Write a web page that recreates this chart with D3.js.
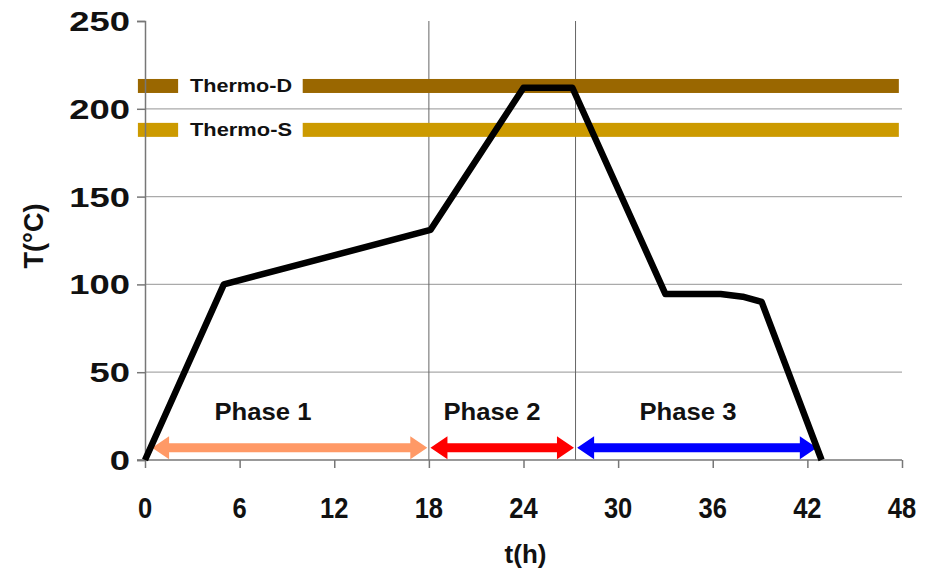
<!DOCTYPE html>
<html>
<head>
<meta charset="utf-8">
<script src="https://cdn.jsdelivr.net/npm/d3@7"></script>
<style>
  body { margin: 0; background: #fff; }
  text { font-family: "Liberation Sans", Arial, sans-serif; font-weight: bold; }
</style>
</head>
<body>
<svg id="chart"></svg>
<script>
const width = 936;
const height = 575;

// temperature profile
const hours = [0, 5, 18.1, 24, 27.1, 33, 36.5, 37.9, 39.1, 42.9];
const temps = [0, 100, 131, 212, 212, 94.5, 94.5, 93, 90, 0];

// thermometer bands
const bandNames = ["Thermo-D", "Thermo-S"];
const bandValues = [213, 188];
const bandColors = ["#9a6700", "#cc9a00"];

// phases
const phaseNames = ["Phase 1", "Phase 2", "Phase 3"];
const phaseStart = [0.45, 18.1, 27.4];
const phaseEnd = [17.9, 27.2, 42.6];
const phaseColors = ["#ff9966", "#ff0000", "#0000ff"];
const phaseBounds = [18, 27.3];

const xTicks = [0, 6, 12, 18, 24, 30, 36, 42, 48];
const yTicks = [0, 50, 100, 150, 200, 250];

const x = d3.scaleLinear().domain([0, 48]).range([145, 902]);
const y = d3.scaleLinear().domain([0, 250]).range([460, 21]);

const svg = d3.select("#chart").attr("width", width).attr("height", height);

// horizontal gridlines
svg.append("g")
  .selectAll("line")
  .data(yTicks.filter((d) => d > 0 && d < 250))
  .enter()
  .append("line")
  .attr("x1", x(0))
  .attr("x2", x(48))
  .attr("y1", (d) => y(d))
  .attr("y2", (d) => y(d))
  .attr("stroke", "#aaa")
  .attr("stroke-width", 1.2);

// phase boundary lines
svg.append("g")
  .selectAll("line")
  .data(phaseBounds)
  .enter()
  .append("line")
  .attr("x1", (d) => x(d))
  .attr("x2", (d) => x(d))
  .attr("y1", y(250))
  .attr("y2", y(0))
  .attr("stroke", "#666")
  .attr("stroke-width", 1);

// bands with a gap for the labels
const bandSegs = [[-0.45, 2.1], [10.0, 47.8]];
bandValues.forEach((v, i) => {
  bandSegs.forEach((s) => {
    svg.append("rect")
      .attr("x", x(s[0]))
      .attr("width", x(s[1]) - x(s[0]))
      .attr("y", y(v) - 7)
      .attr("height", 14)
      .attr("fill", bandColors[i]);
  });
  svg.append("text")
    .attr("x", 190)
    .attr("y", y(v) + 6.5)
    .attr("font-size", 19)
    .attr("textLength", 102)
    .attr("lengthAdjust", "spacingAndGlyphs")
    .attr("fill", "#111")
    .text(bandNames[i]);
});

// axes
const yAxis = svg.append("g")
  .attr("transform", `translate(${x(0)},0)`)
  .call(d3.axisLeft(y).tickValues(yTicks).tickSize(8).tickFormat(""));
const xAxis = svg.append("g")
  .attr("transform", `translate(0,${y(0)})`)
  .call(d3.axisBottom(x).tickValues(xTicks).tickSize(8).tickFormat(""));
[yAxis, xAxis].forEach((a) => {
  a.select(".domain").attr("stroke", "#777").attr("stroke-width", 1.5);
  a.selectAll(".tick line").attr("stroke", "#777").attr("stroke-width", 1.5);
});
xAxis.select(".domain").attr("d", `M${x(0) - 8},0H${x(48)}`);

// tick labels
svg.append("g")
  .selectAll("text")
  .data(yTicks)
  .enter()
  .append("text")
  .attr("x", 130)
  .attr("y", (d) => y(d) + 10)
  .attr("text-anchor", "end")
  .attr("font-size", 28)
  .attr("transform", "translate(130,0) scale(1.3,1) translate(-130,0)")
  .attr("fill", "#111")
  .text((d) => d);

svg.append("g")
  .selectAll("text")
  .data(xTicks)
  .enter()
  .append("text")
  .attr("x", (d) => x(d))
  .attr("y", 518)
  .attr("text-anchor", "middle")
  .attr("font-size", 29)
  .attr("transform", (d) => `translate(${x(d)},0) scale(0.88,1) translate(${-x(d)},0)`)
  .attr("fill", "#111")
  .text((d) => d);

// axis titles
svg.append("text")
  .attr("x", x(24) + 2)
  .attr("y", 563)
  .attr("text-anchor", "middle")
  .attr("font-size", 26)
  .attr("fill", "#111")
  .text("t(h)");

svg.append("text")
  .attr("transform", "translate(43,236) rotate(-90)")
  .attr("text-anchor", "middle")
  .attr("font-size", 27)
  .attr("fill", "#111")
  .text("T(°C)");

// phase arrows
const arrowY = y(7);
const shaft = 4.5, head = 11.5, headLen = 17;
function arrowPath(x0, x1) {
  return `M${x0},${arrowY}` +
    `L${x0 + headLen},${arrowY - head}L${x0 + headLen},${arrowY - shaft}` +
    `L${x1 - headLen},${arrowY - shaft}L${x1 - headLen},${arrowY - head}` +
    `L${x1},${arrowY}` +
    `L${x1 - headLen},${arrowY + head}L${x1 - headLen},${arrowY + shaft}` +
    `L${x0 + headLen},${arrowY + shaft}L${x0 + headLen},${arrowY + head}Z`;
}
svg.append("g")
  .selectAll("path")
  .data(phaseNames)
  .enter()
  .append("path")
  .attr("d", (d, i) => arrowPath(x(phaseStart[i]), x(phaseEnd[i])))
  .attr("fill", (d, i) => phaseColors[i]);

svg.append("g")
  .selectAll("text")
  .data(phaseNames)
  .enter()
  .append("text")
  .attr("x", (d, i) => [263, 492, 688][i])
  .attr("y", 420)
  .attr("text-anchor", "middle")
  .attr("font-size", 24)
  .attr("textLength", 97)
  .attr("lengthAdjust", "spacingAndGlyphs")
  .attr("fill", "#111")
  .text((d) => d);

// temperature curve
const line = d3.line()
  .x((d, i) => x(hours[i]))
  .y((d) => y(d));
svg.append("path")
  .datum(temps)
  .attr("d", line)
  .attr("fill", "none")
  .attr("stroke", "#000")
  .attr("stroke-width", 6.5)
  .attr("stroke-linejoin", "round");
</script>
</body>
</html>
